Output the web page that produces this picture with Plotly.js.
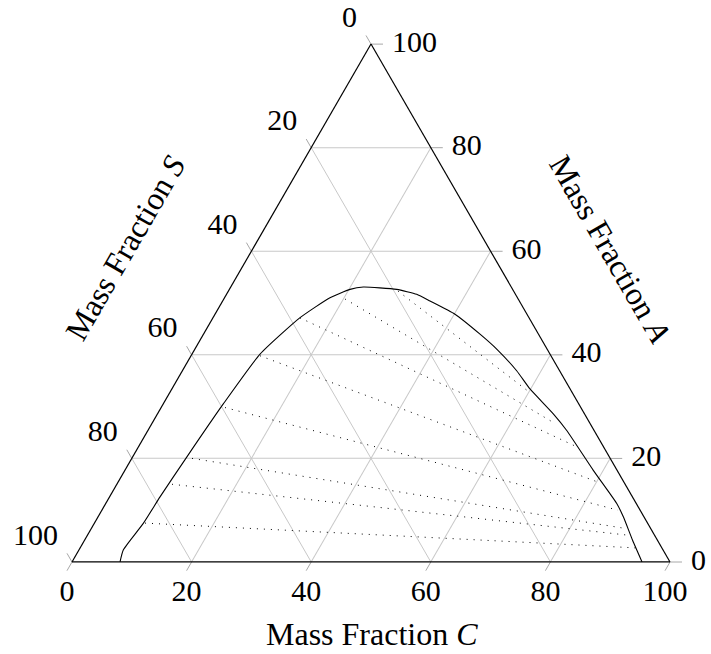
<!DOCTYPE html>
<html>
<head>
<meta charset="utf-8">
<script src="https://cdn.plot.ly/plotly-3.0.1.min.js"></script>
<style>html,body{margin:0;padding:0;background:#fff;}#chart{width:711px;height:654px;}</style>
</head>
<body>
<div id="chart"></div>
<script>
// Binodal curve (mass fractions in %): A and C; S = 100 - A - C
const curveA = [0, 2.31, 7.44, 12.56, 20.25, 30.52, 40.13, 47.17, 51.02, 52.63, 53.08, 52.63, 51.67, 50.38, 47.83, 43.98, 41.10, 36.92, 33.40, 28.59, 25.38, 17.69, 11.29, 8.71, 4.23, 0];
const curveC = [8.03, 7.42, 8.20, 8.44, 9.06, 10.04, 11.38, 14.55, 17.63, 20.18, 22.17, 27.98, 31.81, 34.68, 40.13, 46.24, 50.47, 55.90, 59.89, 66.19, 70.04, 78.33, 85.45, 87.84, 91.61, 95.32];

// Tie lines: left end and right end on the binodal curve
const tieLeftA  = [52.31, 50.77, 47.12, 39.81, 29.81, 20.00, 15.00, 7.50];
const tieLeftC  = [28.36, 20.27, 14.57, 11.53, 10.68, 10.07, 9.22, 8.46];
const tieRightA = [32.69, 26.73, 22.12, 15.50, 10.00, 6.54, 5.19, 2.69];
const tieRightC = [60.24, 67.41, 73.56, 80.00, 86.30, 88.87, 90.22, 93.31];

// Tick values shared by the three axes
const tickVals = [0, 20, 40, 60, 80, 100];

const FONT = 'Liberation Serif, Times New Roman, serif';
const GRID = '#c8c8c8';
const TICK = '#a8a8a8';

// geometry of the plot (pixels)
const W = 711, HGT = 654;
const TRI_LEFT = 72, TRI_W = 598, TRI_BOTTOM = 92;   // triangle bottom edge, px from bottom
const PX = TRI_W / 100;                               // px per percent
const H = Math.sqrt(3) / 2;

const traces = [];
for (let i = 0; i < tieLeftA.length; i++) {
  traces.push({
    type: 'scatterternary', mode: 'lines',
    a: [tieLeftA[i], tieRightA[i]],
    c: [tieLeftC[i], tieRightC[i]],
    line: {color: 'black', width: 1, dash: '1px,6px'},
    hoverinfo: 'skip', showlegend: false
  });
}
traces.push({
  type: 'scatterternary', mode: 'lines',
  a: curveA, c: curveC,
  line: {color: 'black', width: 1.1, shape: 'spline', smoothing: 0.5},
  hoverinfo: 'skip', showlegend: false
});

// Overlay cartesian frame aligned with the triangle (x = C + A/2, y = A*sqrt(3)/2)
// used for the outside tick marks and tick labels.
const tx = [], ty = [];
const seg = (x0, y0, dx, dy, len) => { tx.push(x0, x0 + dx * len / PX, null); ty.push(y0, y0 + dy * len / PX, null); };
tickVals.forEach(v => {
  seg(100 - v / 2, H * v, 1, 0, 12);                 // A ticks on right edge
  seg((100 - v) / 2, H * (100 - v), -0.5, H, 10);    // S ticks on left edge
  seg(v, 0, -0.5, -H, 10);                           // C ticks on bottom edge
});
traces.push({type: 'scatter', mode: 'lines', x: tx, y: ty, line: {color: TICK, width: 1},
             cliponaxis: false, hoverinfo: 'skip', showlegend: false});

const labelFont = {family: FONT, size: 30, color: 'black'};
const lab = (x, y, pos) => ({type: 'scatter', mode: 'text', x, y, text: tickVals.map(String),
  textposition: pos, textfont: labelFont, cliponaxis: false, hoverinfo: 'skip', showlegend: false});
// A labels (right edge)
traces.push(lab(tickVals.map(v => 100 - v / 2 + 21 / PX), tickVals.map(v => H * v), 'middle right'));
// S labels (left edge)
traces.push(lab(tickVals.map(s => (100 - s) / 2 - 14 / PX), tickVals.map(s => H * (100 - s) + 25 / PX), 'middle left'));
// C labels (bottom edge)
traces.push(lab(tickVals.map(v => v - 5 / PX), tickVals.map(() => -31 / PX), 'middle center'));

const axisBase = {
  tickvals: tickVals, showticklabels: false,
  showline: true, linecolor: 'black', linewidth: 1.2,
  showgrid: true, gridcolor: GRID, gridwidth: 1,
  ticks: '', title: {text: ''}, min: 0
};

const layout = {
  width: W, height: HGT,
  margin: {l: 0, r: 0, t: 0, b: 0},
  paper_bgcolor: 'white', plot_bgcolor: 'rgba(0,0,0,0)',
  showlegend: false,
  xaxis: {domain: [0, 1], range: [-TRI_LEFT / PX, (W - TRI_LEFT) / PX], visible: false, fixedrange: true},
  yaxis: {domain: [0, 1], range: [-TRI_BOTTOM / PX, (HGT - TRI_BOTTOM) / PX], visible: false, fixedrange: true},
  ternary: {
    sum: 100,
    domain: {x: [TRI_LEFT / W, (TRI_LEFT + TRI_W) / W], y: [TRI_BOTTOM / HGT, (TRI_BOTTOM + 518) / HGT]},
    bgcolor: 'white',
    aaxis: Object.assign({}, axisBase),
    baxis: Object.assign({}, axisBase),
    caxis: Object.assign({}, axisBase)
  },
  annotations: [
    {xref: 'paper', yref: 'paper', x: 0.5232, y: 0.0306, text: 'Mass Fraction <i>C</i>', showarrow: false,
     font: {family: FONT, size: 32, color: 'black'}, xanchor: 'center', yanchor: 'middle'},
    {xref: 'paper', yref: 'paper', x: 0.1758, y: 0.6208, text: 'Mass Fraction <i>S</i>', showarrow: false, textangle: -60,
     font: {family: FONT, size: 32, color: 'black'}, xanchor: 'center', yanchor: 'middle'},
    {xref: 'paper', yref: 'paper', x: 0.858, y: 0.619, text: 'Mass Fraction <i>A</i>', showarrow: false, textangle: 60,
     font: {family: FONT, size: 32, color: 'black'}, xanchor: 'center', yanchor: 'middle'}
  ]
};

Plotly.newPlot('chart', traces, layout, {staticPlot: true, displayModeBar: false});
</script>
</body>
</html>
